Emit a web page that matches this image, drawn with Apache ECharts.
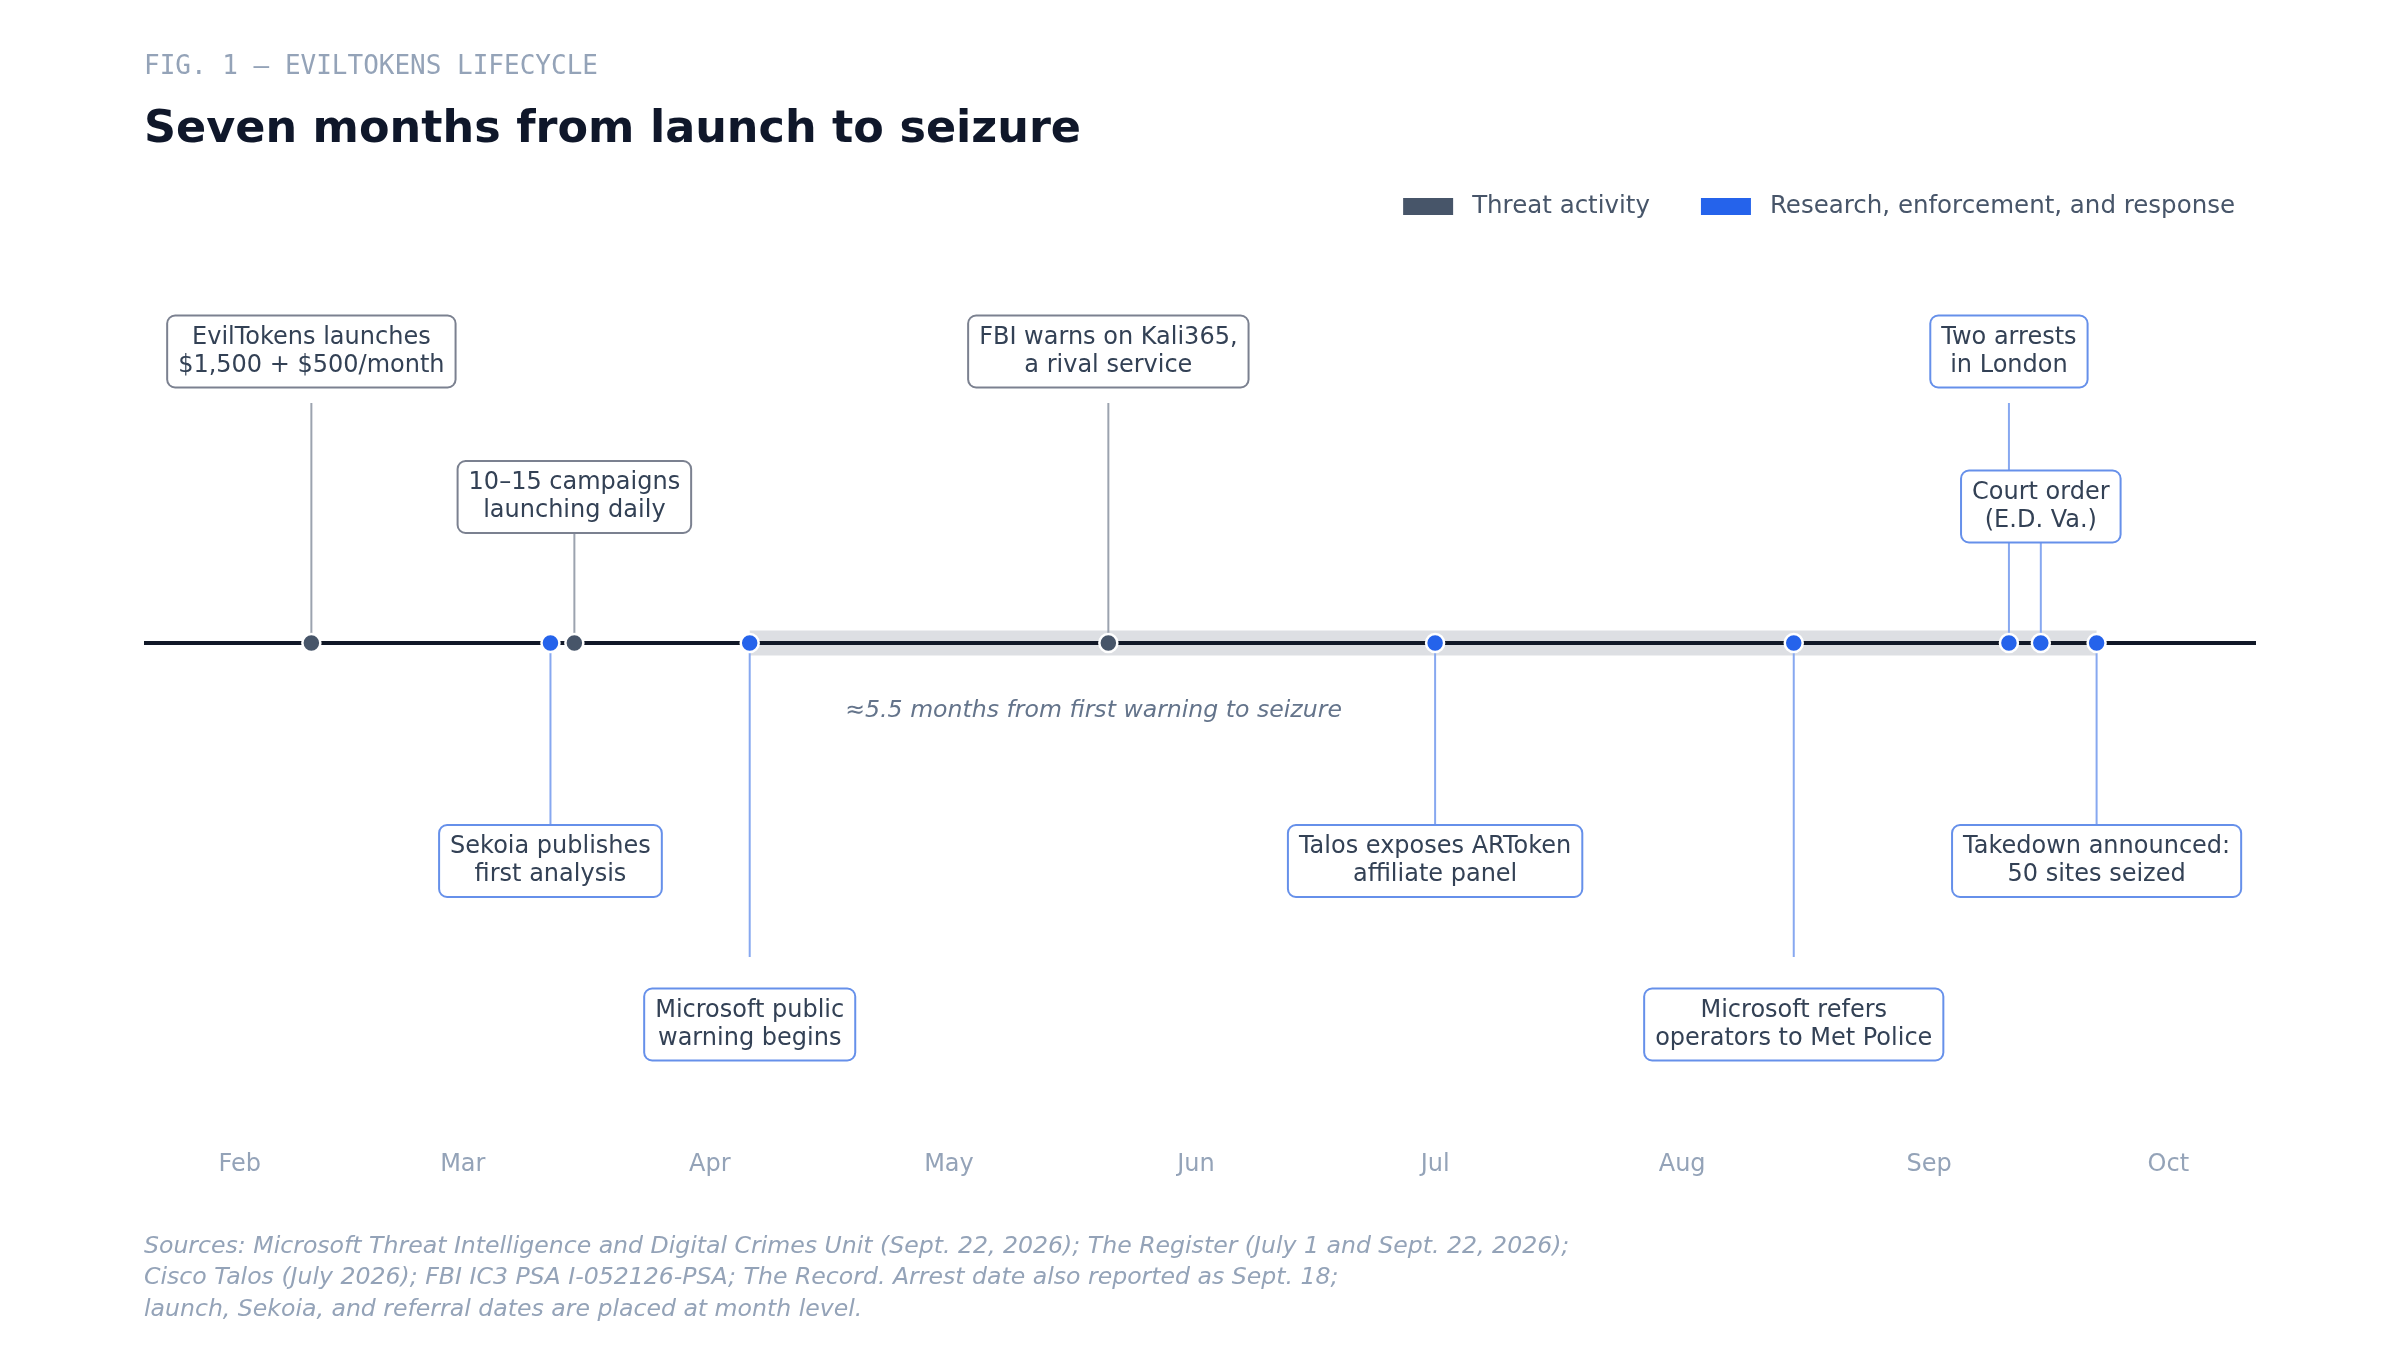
<!DOCTYPE html>
<html lang="en">
<head>
<meta charset="UTF-8">
<title>EvilTokens lifecycle</title>
<script src="https://cdn.jsdelivr.net/npm/echarts@6.0.0/dist/echarts.min.js"></script>
<style>
    html, body { margin: 0; padding: 0; background: #fff; }
    #chart { width: 2400px; height: 1350px; }
</style>
</head>
<body>
<div id="chart"></div>
<script>
    // time range of the axis and month ticks
    var axisStart = '2026-01-20';
    var axisEnd = '2026-10-12';
    var monthTicks = ['2026-02-01', '2026-03-01', '2026-04-01', '2026-05-01', '2026-06-01',
        '2026-07-01', '2026-08-01', '2026-09-01', '2026-10-01'];
    var monthLabels = ['Feb', 'Mar', 'Apr', 'May', 'Jun', 'Jul', 'Aug', 'Sep', 'Oct'];

    // events
    var eventDates = ['2026-02-10', '2026-03-12', '2026-03-15', '2026-04-06', '2026-05-21',
        '2026-07-01', '2026-08-15', '2026-09-11', '2026-09-15', '2026-09-22'];
    var eventLabels = [
        'EvilTokens launches\n$1,500 + $500/month',
        'Sekoia publishes\nfirst analysis',
        '10\u201315 campaigns\nlaunching daily',
        'Microsoft public\nwarning begins',
        'FBI warns on Kali365,\na rival service',
        'Talos exposes ARToken\naffiliate panel',
        'Microsoft refers\noperators to Met Police',
        'Two arrests\nin London',
        'Court order\n(E.D. Va.)',
        'Takedown announced:\n50 sites seized'
    ];
    var eventKinds = ['threat', 'response', 'threat', 'response', 'threat',
        'response', 'response', 'response', 'response', 'response'];

    // warning-to-seizure window
    var windowStart = '2026-04-06';
    var windowEnd = '2026-09-22';
    var windowNote = '\u22485.5 months from first warning to seizure';
    var noteDate = '2026-04-18';

    // layout: pixels above (+) or below (-) the timeline
    var labelOffset = [291.5, -218, 146, -381.5, 291.5, -218, -381.5, 291.5, 136.5, -218];
    var stemEnd = [240, -183, 111, -314, 240, -183, -314, 240, 101, -183];

    var FONT = 'DejaVu Sans';
    var kindStyle = {
        threat: {dot: '#475569', stem: '#9ca3af', border: '#7b8190'},
        response: {dot: '#2563eb', stem: '#87a8f0', border: '#6690ea'}
    };

    function t(d) { return new Date(d + 'T00:00:00Z').getTime(); }

    function dotsFor(kind) {
        var out = [];
        eventDates.forEach(function (d, i) {
            if (eventKinds[i] === kind) out.push([t(d), 0]);
        });
        return out;
    }

    var monthValues = monthTicks.map(t);

    var chart = echarts.init(document.getElementById('chart'));
    chart.setOption({
        backgroundColor: '#fff',
        animation: false,
        title: [
            {
                text: 'FIG. 1 \u2014 EVILTOKENS LIFECYCLE', left: 144, top: 52, padding: 0,
                textStyle: {fontFamily: 'DejaVu Sans Mono', fontSize: 26, fontWeight: 'normal', color: '#94a3b8', lineHeight: 30}
            },
            {
                text: 'Seven months from launch to seizure', left: 144, top: 104, padding: 0,
                textStyle: {fontFamily: FONT, fontSize: 44.5, fontWeight: 'bold', color: '#0f172a', lineHeight: 52}
            },
            {
                text: 'Sources: Microsoft Threat Intelligence and Digital Crimes Unit (Sept. 22, 2026); The Register (July 1 and Sept. 22, 2026);\n' +
                    'Cisco Talos (July 2026); FBI IC3 PSA I-052126-PSA; The Record. Arrest date also reported as Sept. 18;\n' +
                    'launch, Sekoia, and referral dates are placed at month level.',
                left: 144, top: 1231, padding: 0,
                textStyle: {fontFamily: FONT, fontSize: 23.6, fontStyle: 'italic', fontWeight: 'normal', color: '#94a3b8', lineHeight: 31.5}
            }
        ],
        legend: {
            data: ['Threat activity', 'Research, enforcement, and response'],
            right: 165, top: 194, padding: 0,
            icon: 'rect', itemWidth: 52, itemHeight: 19, itemGap: 49,
            selectedMode: false,
            textStyle: {fontFamily: FONT, fontSize: 24.5, color: '#475569', padding: [0, 0, 0, 13]}
        },
        grid: {left: 144, right: 144, top: 160, bottom: 210},
        xAxis: {
            type: 'value',
            min: t(axisStart),
            max: t(axisEnd),
            splitLine: {show: false},
            axisLine: {show: false},
            axisTick: {show: false},
            axisLabel: {
                customValues: monthValues,
                margin: 13,
                fontFamily: FONT, fontSize: 24, color: '#94a3b8',
                formatter: function (v) {
                    var i = monthValues.indexOf(v);
                    return i >= 0 ? monthLabels[i] : '';
                }
            }
        },
        yAxis: {type: 'value', min: -497, max: 483, show: false},
        series: [
            {
                // shaded window
                type: 'custom', z: 1, silent: true,
                encode: {x: [0, 1]},
                data: [[t(windowStart), t(windowEnd)]],
                renderItem: function (params, api) {
                    var a = api.coord([api.value(0), 12.5]);
                    var b = api.coord([api.value(1), -12.5]);
                    return {type: 'rect', shape: {x: a[0], y: a[1], width: b[0] - a[0], height: b[1] - a[1]},
                        style: {fill: '#dddfe3'}};
                }
            },
            {
                // stems
                type: 'custom', z: 2, silent: true,
                data: eventDates.map(function (d, i) { return [t(d), stemEnd[i]]; }),
                renderItem: function (params, api) {
                    var i = params.dataIndex;
                    var p0 = api.coord([api.value(0), 0]);
                    var p1 = api.coord([api.value(0), api.value(1)]);
                    return {type: 'line', shape: {x1: p0[0], y1: p0[1], x2: p1[0], y2: p1[1]},
                        style: {stroke: kindStyle[eventKinds[i]].stem, lineWidth: 2}};
                }
            },
            {
                // timeline
                type: 'line', z: 3, silent: true,
                data: [[t(axisStart), 0], [t(axisEnd), 0]],
                symbol: 'none',
                lineStyle: {color: '#111827', width: 4}
            },
            {
                // label boxes
                type: 'custom', z: 4, silent: true,
                data: eventDates.map(function (d, i) { return [t(d), labelOffset[i]]; }),
                renderItem: function (params, api) {
                    var i = params.dataIndex;
                    var p = api.coord([api.value(0), api.value(1)]);
                    return {
                        type: 'text', x: p[0], y: p[1],
                        style: {
                            text: eventLabels[i], align: 'center', verticalAlign: 'middle',
                            fontFamily: FONT, fontSize: 24, lineHeight: 28, fill: '#334155',
                            backgroundColor: '#fff', borderColor: kindStyle[eventKinds[i]].border,
                            borderWidth: 2, borderRadius: 7, padding: [7, 10]
                        }
                    };
                }
            },
            {
                // window note
                type: 'custom', z: 4, silent: true,
                data: [[t(noteDate), -68]],
                renderItem: function (params, api) {
                    var p = api.coord([api.value(0), api.value(1)]);
                    return {
                        type: 'text', x: p[0], y: p[1],
                        style: {
                            text: windowNote, align: 'left', verticalAlign: 'middle',
                            fontFamily: FONT, fontSize: 23.6, fontStyle: 'italic', fill: '#64748b'
                        }
                    };
                }
            },
            {
                name: 'Threat activity',
                type: 'scatter', z: 5,
                data: dotsFor('threat'),
                symbolSize: 18,
                itemStyle: {color: kindStyle.threat.dot, borderColor: '#fff', borderWidth: 2.5, opacity: 1}
            },
            {
                name: 'Research, enforcement, and response',
                type: 'scatter', z: 5,
                data: dotsFor('response'),
                symbolSize: 18,
                itemStyle: {color: kindStyle.response.dot, borderColor: '#fff', borderWidth: 2.5, opacity: 1}
            }
        ]
    });
</script>
</body>
</html>
